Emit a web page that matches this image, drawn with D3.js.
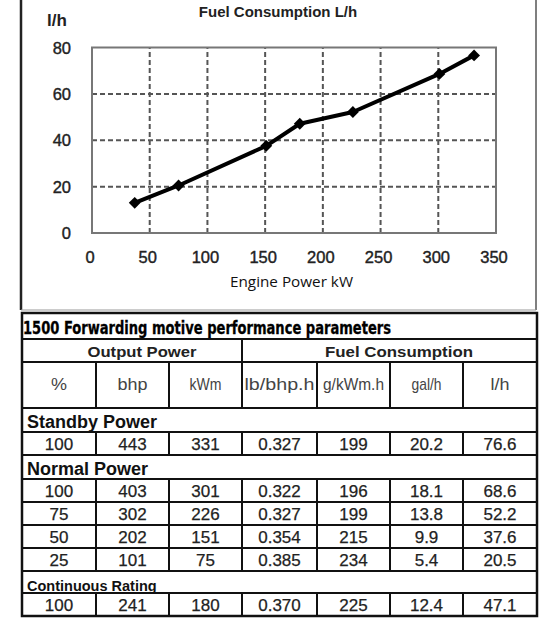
<!DOCTYPE html>
<html><head><meta charset="utf-8">
<script src="https://cdn.jsdelivr.net/npm/d3@7"></script>
<style>html,body{margin:0;padding:0;background:#fff}svg{display:block}</style>
</head><body><svg id="c" width="560" height="625"></svg>
<script>
// ---- chart data ----
const powerKW = [37, 75, 151, 180, 226, 301, 331];
const fuelLh  = [13, 20.5, 37.6, 47.1, 52.2, 68.6, 76.6];
const xTicks = [0, 50, 100, 150, 200, 250, 300, 350];
const yTicks = [0, 20, 40, 60, 80];
const chartTitle = "Fuel Consumption L/h";
const yTitle = "l/h";
const xTitle = "Engine Power kW";

// ---- table data ----
const tableTitle = "1500 Forwarding motive performance parameters";
const groupHeads = ["Output Power", "Fuel Consumption"];
const colHeads = ["%", "bhp", "kWm", "lb/bhp.h", "g/kWm.h", "gal/h", "l/h"];
const standbyRows = [["100","443","331","0.327","199","20.2","76.6"]];
const normalRows = [
  ["100","403","301","0.322","196","18.1","68.6"],
  ["75","302","226","0.327","199","13.8","52.2"],
  ["50","202","151","0.354","215","9.9","37.6"],
  ["25","101","75","0.385","234","5.4","20.5"]
];
const continuousRows = [["100","241","180","0.370","225","12.4","47.1"]];
const sectionNames = ["Standby Power", "Normal Power", "Continuous Rating"];

const svg = d3.select("#c");
const F = "'Liberation Sans', Arial, sans-serif";

// ---- chart frame ----
svg.append("line").attr("x1",21).attr("x2",21).attr("y1",0).attr("y2",310).attr("stroke","#222").attr("stroke-width",2.5);
svg.append("line").attr("x1",536).attr("x2",536).attr("y1",0).attr("y2",310).attr("stroke","#555").attr("stroke-width",1.5);
svg.append("line").attr("x1",21).attr("x2",536).attr("y1",310).attr("y2",310).attr("stroke","#999").attr("stroke-width",1);

const x = d3.scaleLinear().domain([0,350]).range([92,496]);
const y = d3.scaleLinear().domain([0,80]).range([233,47.5]);

// grid
const g = svg.append("g");
g.selectAll("line.vg").data(xTicks.filter(t=>t>0 && t<350)).join("line")
  .attr("x1",d=>x(d)).attr("x2",d=>x(d)).attr("y1",y(0)).attr("y2",y(80))
  .attr("stroke","#555").attr("stroke-width",2).attr("stroke-dasharray","5,3");
g.selectAll("line.hg").data(yTicks.filter(t=>t>0 && t<80)).join("line")
  .attr("x1",x(0)).attr("x2",x(350)).attr("y1",d=>y(d)).attr("y2",d=>y(d))
  .attr("stroke","#555").attr("stroke-width",2).attr("stroke-dasharray","5,3");
g.append("rect").attr("x",x(0)).attr("y",y(80)).attr("width",x(350)-x(0)).attr("height",y(0)-y(80))
  .attr("fill","none").attr("stroke","#777").attr("stroke-width",2);

// tick labels
g.selectAll("text.xt").data(xTicks).join("text")
  .attr("x",d=>x(d)-2).attr("y",262.5).attr("text-anchor","middle")
  .attr("font-family",F).attr("font-size",16.5).attr("fill","#222")
  .attr("stroke","#222").attr("stroke-width",0.4).text(d=>d);
g.selectAll("text.yt").data(yTicks).join("text")
  .attr("x",71).attr("y",d=>y(d)+6).attr("text-anchor","end")
  .attr("font-family",F).attr("font-size",16.5).attr("fill","#222")
  .attr("stroke","#222").attr("stroke-width",0.4).text(d=>d);

svg.append("text").attr("x",278).attr("y",17).attr("text-anchor","middle")
  .attr("font-family",F).attr("font-weight","bold").attr("font-size",15).attr("fill","#222").text(chartTitle);
svg.append("text").attr("x",47).attr("y",26).attr("font-family",F).attr("font-weight","bold")
  .attr("font-size",17).attr("fill","#222").text(yTitle);
svg.append("text").attr("x",230).attr("y",287).attr("font-family","'Open Sans', sans-serif")
  .attr("font-size",15).attr("fill","#111").attr("textLength",123).attr("lengthAdjust","spacingAndGlyphs").text(xTitle);

// line + markers
const pts = powerKW.map((p,i)=>[p, fuelLh[i]]);
g.append("path").datum(pts).attr("fill","none").attr("stroke","#000").attr("stroke-width",4)
  .attr("stroke-linejoin","round").attr("d", d3.line().x(d=>x(d[0])).y(d=>y(d[1])));
g.selectAll("path.m").data(pts).join("path")
  .attr("transform",d=>`translate(${x(d[0])},${y(d[1])}) rotate(45)`)
  .attr("d", d3.symbol(d3.symbolSquare, 70)()).attr("fill","#000");

// ---- table ----
const T = svg.append("g");
const L = 22, R = 537;
const colEdges = [22, 96, 169, 242, 317, 390, 463, 537];
const colMid = i => (colEdges[i]+colEdges[i+1])/2;
const lw = 2;
function hline(yy, x1=L, x2=R, w=lw){ T.append("line").attr("x1",x1).attr("x2",x2).attr("y1",yy).attr("y2",yy).attr("stroke","#111").attr("stroke-width",w); }
function vline(xx, y1, y2, w=lw){ T.append("line").attr("x1",xx).attr("x2",xx).attr("y1",y1).attr("y2",y2).attr("stroke","#111").attr("stroke-width",w); }

// title row
T.append("text").attr("x",23).attr("y",334).attr("font-family","'Liberation Sans Narrow','DejaVu Sans Condensed',sans-serif")
  .attr("font-weight","bold").attr("font-size",18).attr("fill","#000")
  .attr("stroke","#000").attr("stroke-width",0.3)
  .attr("textLength",368).attr("lengthAdjust","spacingAndGlyphs").text(tableTitle);
hline(339);
// group header row
T.append("text").attr("x",142).attr("y",357).attr("text-anchor","middle").attr("font-family",F)
  .attr("font-weight","bold").attr("font-size",15.5).attr("fill","#222")
  .attr("textLength",109).attr("lengthAdjust","spacingAndGlyphs").text(groupHeads[0]);
T.append("text").attr("x",399).attr("y",357).attr("text-anchor","middle").attr("font-family",F)
  .attr("font-weight","bold").attr("font-size",15.5).attr("fill","#222")
  .attr("textLength",148).attr("lengthAdjust","spacingAndGlyphs").text(groupHeads[1]);
vline(242, 339, 362);
hline(362);
// column header row
const headW = [16, 30, 32, 70, 61, 30, 19];
colHeads.forEach((h,i)=>{
  T.append("text").attr("x",colMid(i)).attr("y",390).attr("text-anchor","middle").attr("font-family",F)
    .attr("font-size",17).attr("fill","#444")
    .attr("textLength",headW[i]).attr("lengthAdjust","spacingAndGlyphs").text(h);
});
colEdges.slice(1,-1).forEach(e=>vline(e,362,408));
hline(408);

// sections
let yy = 408;
const sections = [
  {name: sectionNames[0], rows: standbyRows, lh: 24, fs: 18, bl: 20},
  {name: sectionNames[1], rows: normalRows, lh: 24, fs: 18, bl: 20},
  {name: sectionNames[2], rows: continuousRows, lh: 22, fs: 14.5, bl: 20}
];
const rowH = 23;
sections.forEach((s,si)=>{
  T.append("text").attr("x",27).attr("y",yy+s.bl).attr("font-family",F).attr("font-weight","bold")
    .attr("font-size",s.fs).attr("fill","#111").text(s.name);
  yy += s.lh;
  hline(yy);
  s.rows.forEach(r=>{
    r.forEach((v,i)=>{
      T.append("text").attr("x",colMid(i)).attr("y",yy+rowH/2+6).attr("text-anchor","middle")
        .attr("font-family",F).attr("font-size",17).attr("fill","#222")
        .attr("stroke","#222").attr("stroke-width",0.25).text(v);
    });
    colEdges.slice(1,-1).forEach(e=>vline(e,yy,yy+rowH));
    yy += rowH;
    hline(yy);
  });
});
// outer border
T.append("rect").attr("x",L).attr("y",313).attr("width",R-L).attr("height",yy-313)
  .attr("fill","none").attr("stroke","#111").attr("stroke-width",2.5);
</script></body></html>
